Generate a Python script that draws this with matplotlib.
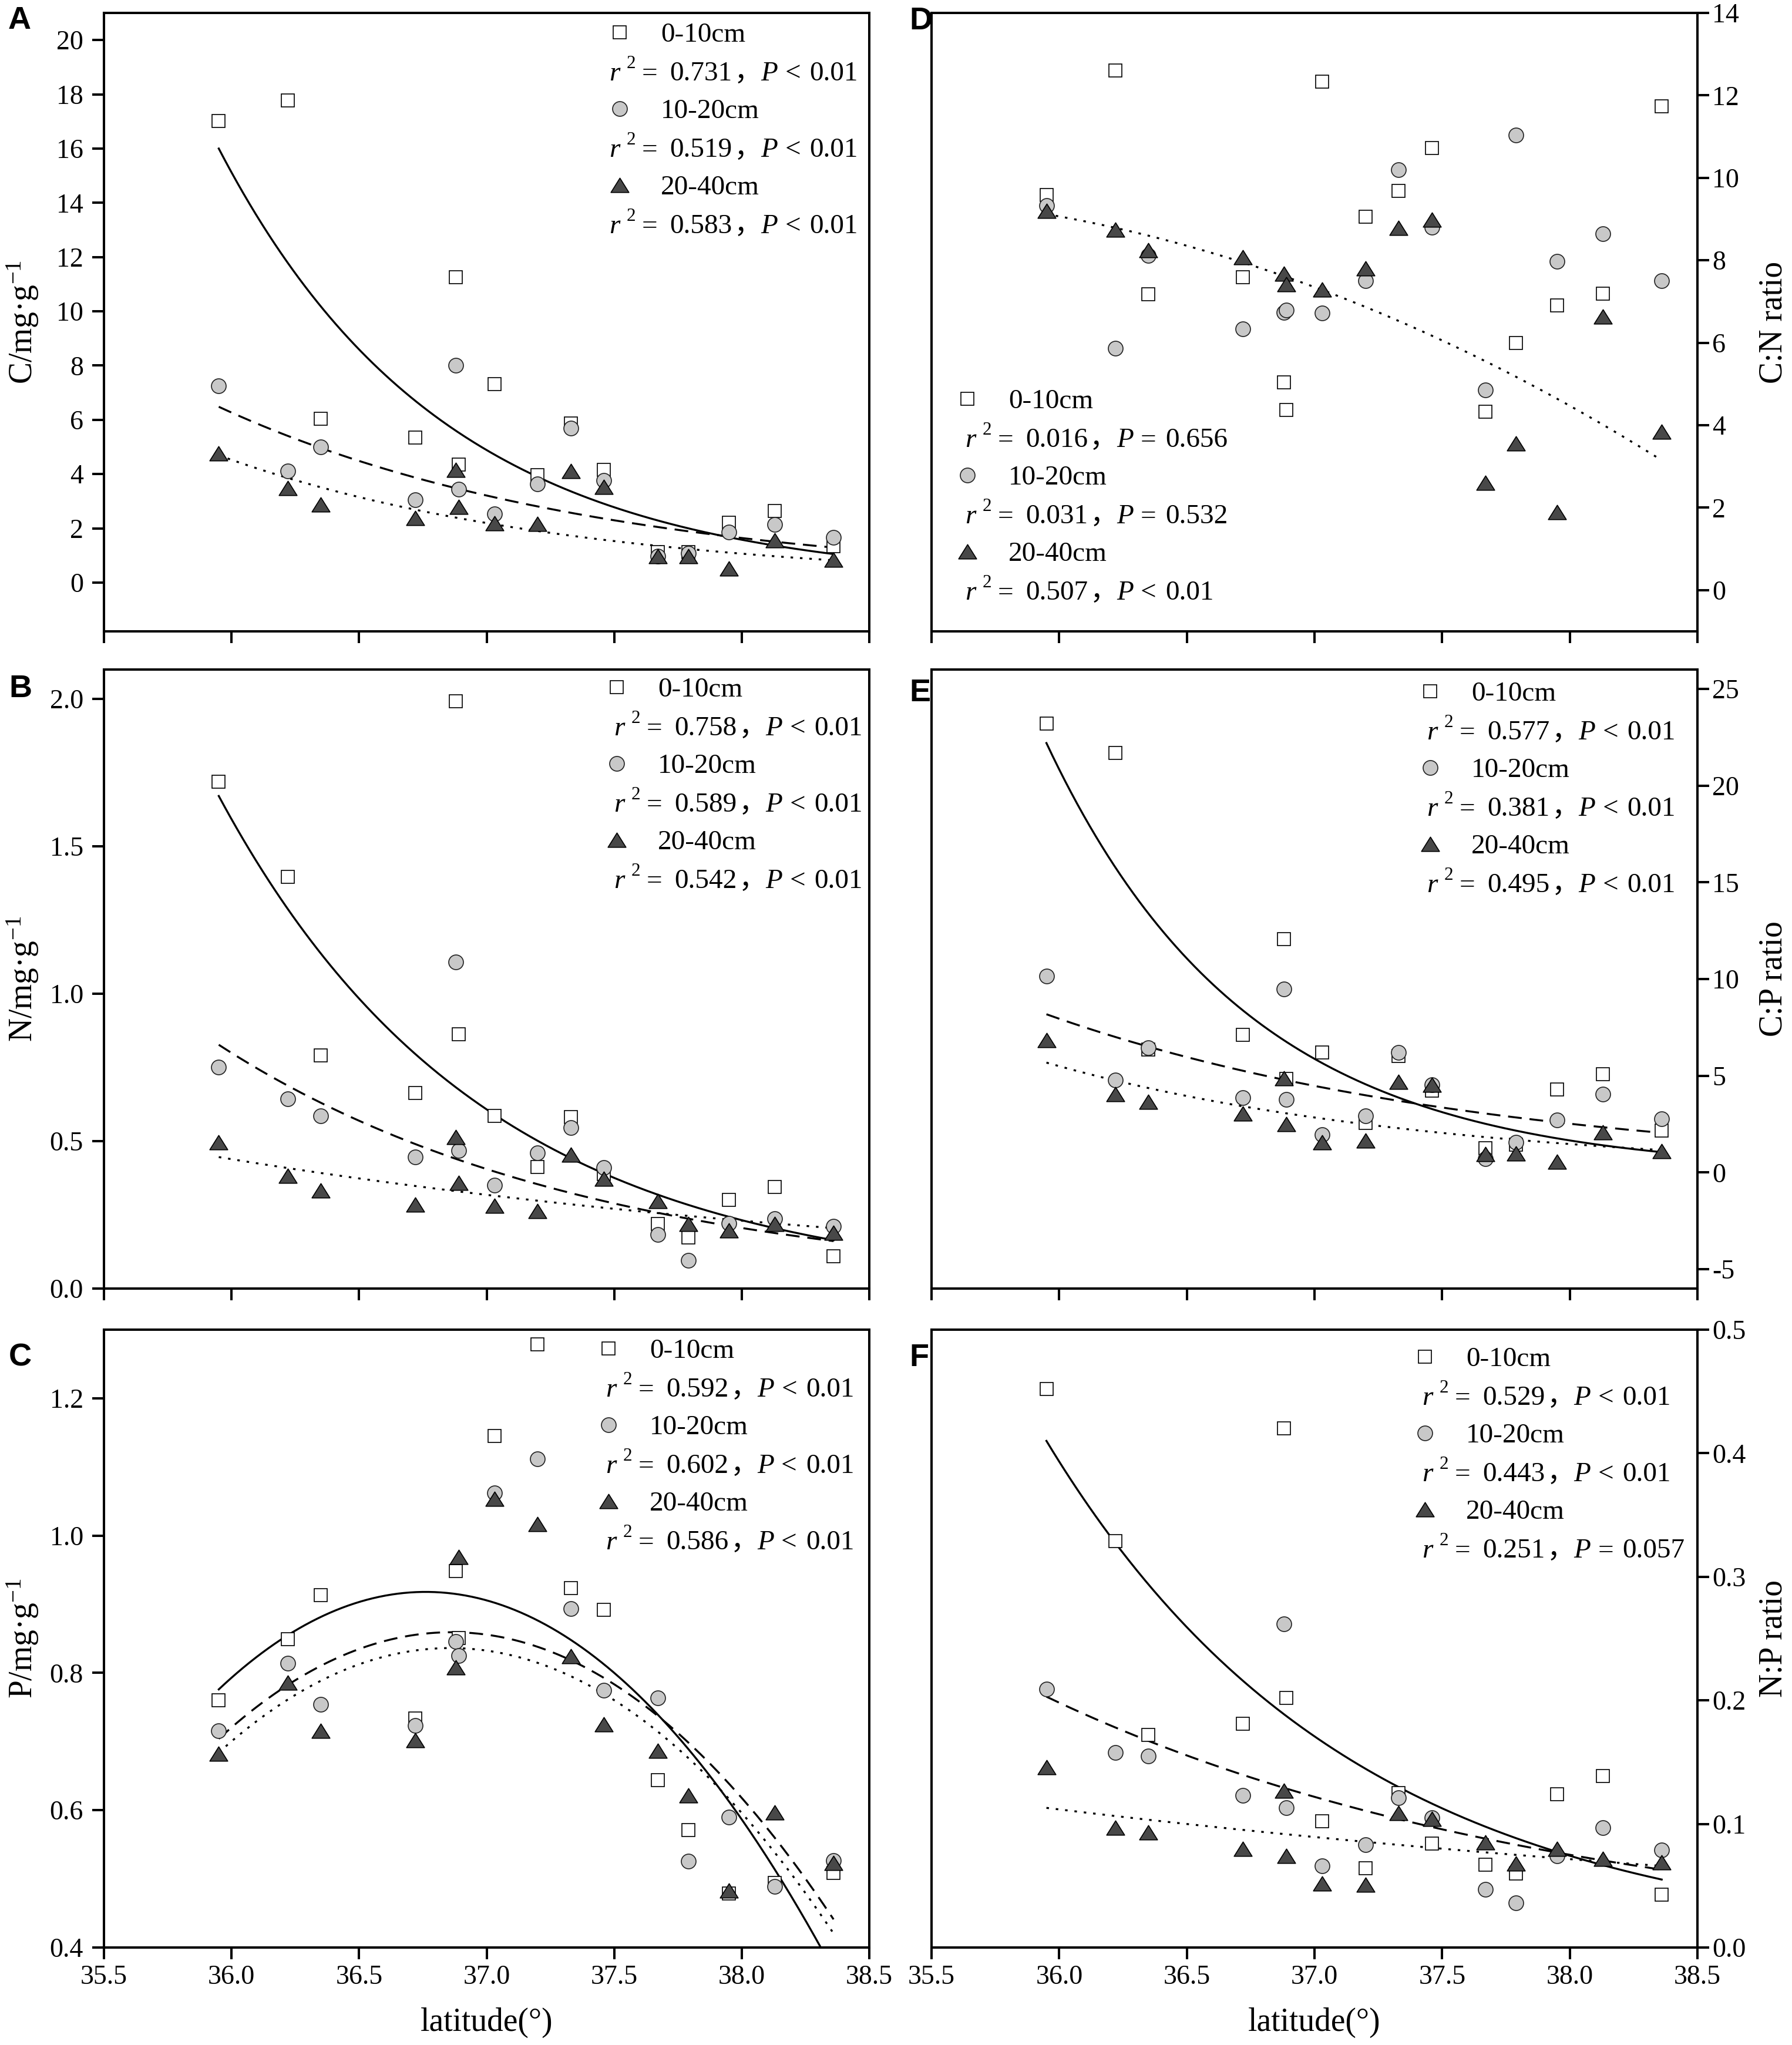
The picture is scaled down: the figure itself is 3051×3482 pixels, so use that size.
import numpy as np
import matplotlib
matplotlib.use("Agg")
import matplotlib.pyplot as plt
from matplotlib.transforms import offset_copy
from matplotlib.path import Path

plt.rcParams['font.family'] = ['Liberation Serif', 'Noto Sans CJK SC']
plt.rcParams['mathtext.fontset'] = 'custom'
plt.rcParams['mathtext.rm'] = 'Liberation Serif'
plt.rcParams['mathtext.it'] = 'Liberation Serif:italic'
plt.rcParams['axes.unicode_minus'] = False

# ---------------- data ----------------
latitude = [35.95, 36.22, 36.35, 36.72, 36.88, 36.89, 37.03, 37.20,
            37.33, 37.46, 37.67, 37.79, 37.95, 38.13, 38.36]
depths = ['0-10cm', '10-20cm', '20-40cm']

C_0_10 = [17.01, 17.78, 6.04, 5.34, 11.26, 4.34, 7.31, 3.95, 5.86, 4.15, 1.13, 1.13, 2.20, 2.63, 1.33]
C_10_20 = [7.25, 4.12, 5.00, 3.04, 8.01, 3.45, 2.53, 3.64, 5.70, 3.76, 0.98, 1.08, 1.86, 2.14, 1.67]
C_20_40 = [4.77, 3.49, 2.87, 2.37, 4.15, 2.80, 2.18, 2.17, 4.12, 3.53, 0.98, 0.98, 0.51, 1.55, 0.85]

N_0_10 = [1.719, 1.397, 0.790, 0.663, 1.993, 0.863, 0.585, 0.413, 0.581, 0.388, 0.219, 0.173, 0.300, 0.345, 0.110]
N_10_20 = [0.751, 0.644, 0.585, 0.446, 1.108, 0.468, 0.351, 0.461, 0.546, 0.410, 0.183, 0.095, 0.222, 0.238, 0.212]
N_20_40 = [0.497, 0.383, 0.332, 0.285, 0.515, 0.358, 0.281, 0.263, 0.454, 0.373, 0.297, 0.219, 0.198, 0.219, 0.190]

P_0_10 = [0.760, 0.849, 0.913, 0.734, 0.948, 0.851, 1.145, 1.279, 0.924, 0.892, 0.644, 0.571, 0.479, 0.494, 0.509]
P_10_20 = [0.716, 0.814, 0.754, 0.723, 0.846, 0.825, 1.062, 1.112, 0.894, 0.775, 0.764, 0.526, 0.590, 0.489, 0.527]
P_20_40 = [0.682, 0.786, 0.716, 0.702, 0.808, 0.969, 1.054, 1.017, 0.824, 0.725, 0.687, 0.622, 0.483, 0.597, 0.523]

CN_0_10 = [9.58, 12.61, 7.17, 7.59, 5.04, 4.37, 12.33, 9.05, 9.68, 10.72, 4.33, 5.99, 6.90, 7.19, 11.73]
CN_10_20 = [9.33, 5.87, 8.11, 6.33, 6.74, 6.79, 6.72, 7.50, 10.19, 8.80, 4.86, 11.03, 7.97, 8.65, 7.50]
CN_20_40 = [9.20, 8.75, 8.24, 8.07, 7.68, 7.42, 7.29, 7.80, 8.78, 8.99, 2.60, 3.56, 1.89, 6.64, 3.84]

CP_0_10 = [23.2, 21.7, 6.35, 7.13, 12.05, 4.84, 6.22, 2.56, 6.02, 4.23, 1.27, 1.45, 4.28, 5.08, 2.16]
CP_10_20 = [10.14, 4.79, 6.46, 3.88, 9.47, 3.79, 1.94, 2.94, 6.22, 4.55, 0.71, 1.56, 2.72, 4.06, 2.76]
CP_20_40 = [6.84, 4.06, 3.65, 3.05, 4.88, 2.50, 1.56, 1.65, 4.68, 4.55, 0.94, 0.98, 0.56, 2.09, 1.11]

NP_0_10 = [0.452, 0.329, 0.172, 0.181, 0.420, 0.202, 0.102, 0.064, 0.125, 0.084, 0.067, 0.060, 0.124, 0.139, 0.043]
NP_10_20 = [0.209, 0.158, 0.155, 0.123, 0.262, 0.113, 0.066, 0.083, 0.121, 0.105, 0.047, 0.036, 0.074, 0.097, 0.079]
NP_20_40 = [0.146, 0.097, 0.093, 0.080, 0.127, 0.074, 0.052, 0.051, 0.109, 0.104, 0.085, 0.068, 0.080, 0.072, 0.069]

# fitted curves: exponential fits given by end values
fit_x_ends = [35.95, 38.36]
fitA = [[16.0, 1.05], [6.48, 1.29], [4.69, 0.82]]
fitB = [[1.671, 0.164], [0.827, 0.161], [0.446, 0.205]]
fitE = [[22.2, 1.05], [8.18, 2.05], [5.68, 1.16]]
fitF = [[0.410, 0.055], [0.203, 0.063], [0.113, 0.066]]
# quadratic fits given by three points on each curve
fitC_x = [[35.95, 36.76, 38.31], [35.95, 36.90, 38.36], [35.95, 36.99, 38.36]]
fitC_y = [[0.776, 0.918, 0.400], [0.704, 0.859, 0.441], [0.684, 0.833, 0.4205]]
fitD_x = [35.95, 37.00, 38.36]
fitD_y = [9.12, 7.35, 3.15]

statsA = [('0.731', '<', '0.01'), ('0.519', '<', '0.01'), ('0.583', '<', '0.01')]
statsB = [('0.758', '<', '0.01'), ('0.589', '<', '0.01'), ('0.542', '<', '0.01')]
statsC = [('0.592', '<', '0.01'), ('0.602', '<', '0.01'), ('0.586', '<', '0.01')]
statsD = [('0.016', '=', '0.656'), ('0.031', '=', '0.532'), ('0.507', '<', '0.01')]
statsE = [('0.577', '<', '0.01'), ('0.381', '<', '0.01'), ('0.495', '<', '0.01')]
statsF = [('0.529', '<', '0.01'), ('0.443', '<', '0.01'), ('0.251', '=', '0.057')]

x_ticks = [35.5, 36.0, 36.5, 37.0, 37.5, 38.0, 38.5]

# ---------------- figure ----------------
W, H, DPI = 3051, 3482, 100
fig = plt.figure(figsize=(W / DPI, H / DPI), dpi=DPI)
renderer = fig.canvas.get_renderer()

col_x = [(177, 1480), (1586, 2890)]
row_y = [(22, 1075), (1140, 2194), (2264, 3316)]

TICK_FS = 33
LEG_FS = 34
LAB_FS = 40

tri_path = Path([(-1, -0.8), (1, -0.8), (0, 0.8), (-1, -0.8)], closed=True)
styles = [
    dict(marker='s', ms=16.5, mfc='white', mec='black', mew=1.2, ls='none'),
    dict(marker='o', ms=18, mfc='#c8c8c8', mec='#222222', mew=1.2, ls='none'),
    dict(marker=tri_path, ms=22, mfc='#484848', mec='black', mew=1.2, ls='none'),
]
line_styles = [
    dict(color='black', lw=2.4, ls='-'),
    dict(color='black', lw=2.4, ls=(0, (7, 4))),
    dict(color='black', lw=2.4, ls=(0, (1.3, 3.5))),
]


def make_axes(col, row):
    l, r = col_x[col]
    t, b = row_y[row]
    return fig.add_axes([l / W, 1 - b / H, (r - l) / W, (b - t) / H])


def setup(ax, ylim, yticks, fmt, side, show_x):
    ax.set_xlim(35.5, 38.5)
    ax.set_xticks(x_ticks)
    ax.set_xticklabels(['%.1f' % v for v in x_ticks])
    ax.set_ylim(*ylim)
    ax.set_yticks(yticks)
    ax.set_yticklabels([fmt % v for v in yticks])
    for s in ax.spines.values():
        s.set_linewidth(2.9)
    ax.tick_params(axis='both', direction='out', length=14.4, width=2.9,
                   labelsize=TICK_FS)
    if side == 'right':
        ax.yaxis.tick_right()
        ax.tick_params(axis='y', pad=3.6)
    else:
        ax.tick_params(axis='y', pad=10.8)
    ax.tick_params(axis='x', pad=6.5, labelbottom=show_x)


def plot_series(ax, series):
    for vals, st in zip(series, styles):
        ax.plot(latitude, vals, zorder=3, clip_on=False, **st)


def exp_curve(ends):
    xs = np.linspace(fit_x_ends[0], fit_x_ends[1], 300)
    b = np.log(ends[1] / ends[0]) / (fit_x_ends[1] - fit_x_ends[0])
    return xs, ends[0] * np.exp(b * (xs - fit_x_ends[0]))


def quad_curve(px, py):
    c = np.polyfit(px, py, 2)
    xs = np.linspace(fit_x_ends[0], fit_x_ends[1], 300)
    return xs, np.polyval(c, xs)


def tr_px(ax, dx, dy):
    return offset_copy(ax.transAxes, fig=fig, x=dx, y=-dy, units='dots')


def put_text(ax, dx, dy, s, **kw):
    t = ax.text(0, 1, s, transform=tr_px(ax, dx, dy), ha='left',
                va='baseline', clip_on=False, **kw)
    return t.get_window_extent(renderer).width


SERIF = dict(fontsize=LEG_FS, family='Liberation Serif')
SERIF_IT = dict(fontsize=LEG_FS, family='Liberation Serif', style='italic')


def stat_line(ax, x0, y0, r2, op, pv):
    put_text(ax, x0, y0, 'r', **SERIF_IT)
    put_text(ax, x0 + 30, y0 - 21, '2', fontsize=LEG_FS * 0.66,
             family='Liberation Serif')
    put_text(ax, x0 + 56, y0, '=', **SERIF)
    xv = x0 + 103
    wv = put_text(ax, xv, y0, r2, **SERIF)
    xc = xv + wv + 3
    put_text(ax, xc, y0, '，', fontsize=LEG_FS, family='Noto Sans CJK SC')
    xp = xc + 46
    put_text(ax, xp, y0, 'P', **SERIF_IT)
    put_text(ax, xp + 41, y0, op, **SERIF)
    put_text(ax, xp + 83, y0, pv, **SERIF)


def legend(ax, stats, mdx, sdx, mdy):
    for i, (st, lab, (r2, op, pv)) in enumerate(zip(styles, depths, stats)):
        ym = mdy + i * 130
        ax.plot([0], [1], transform=tr_px(ax, mdx, ym), clip_on=False,
                zorder=5, **st)
        put_text(ax, mdx + 70, ym + 16, lab, **SERIF)
        stat_line(ax, sdx, ym + 82, r2, op, pv)


def ylabel(ax, text, side):
    bb = ax.get_position()
    yc = (bb.y0 + bb.y1) / 2
    x = 55 / W if side == 'left' else 3034 / W
    fig.text(x, yc, text, rotation=90, rotation_mode='anchor', ha='center',
             va='baseline', fontsize=LAB_FS)


def xlabel(ax):
    bb = ax.get_position()
    fig.text((bb.x0 + bb.x1) / 2, 1 - 3458 / H, 'latitude(°)', ha='center',
             va='baseline', fontsize=LAB_FS)


def letter(x, y, s):
    fig.text(x / W, 1 - y / H, s, ha='left', va='top', fontsize=39,
             fontweight='bold', family='Liberation Sans')


# ---- A ----
axA = make_axes(0, 0)
setup(axA, (-1.8, 21), list(range(0, 21, 2)), '%d', 'left', False)
plot_series(axA, [C_0_10, C_10_20, C_20_40])
for ends, ls in zip(fitA, line_styles):
    axA.plot(*exp_curve(ends), zorder=2, **ls)
legend(axA, statsA, 878, 860, 33)
ylabel(axA, 'C/mg·g$^{-1}$', 'left')

# ---- B ----
axB = make_axes(0, 1)
setup(axB, (0, 2.1), [0.0, 0.5, 1.0, 1.5, 2.0], '%.1f', 'left', False)
plot_series(axB, [N_0_10, N_10_20, N_20_40])
for ends, ls in zip(fitB, line_styles):
    axB.plot(*exp_curve(ends), zorder=2, **ls)
legend(axB, statsB, 873, 868, 30)
ylabel(axB, 'N/mg·g$^{-1}$', 'left')

# ---- C ----
axC = make_axes(0, 2)
setup(axC, (0.4, 1.3), [0.4, 0.6, 0.8, 1.0, 1.2], '%.1f', 'left', True)
plot_series(axC, [P_0_10, P_10_20, P_20_40])
for px, py, ls in zip(fitC_x, fitC_y, line_styles):
    axC.plot(*quad_curve(px, py), zorder=2, **ls)
legend(axC, statsC, 859, 854, 32)
ylabel(axC, 'P/mg·g$^{-1}$', 'left')
xlabel(axC)

# ---- D ----
axD = make_axes(1, 0)
setup(axD, (-1, 14), list(range(0, 15, 2)), '%d', 'right', False)
plot_series(axD, [CN_0_10, CN_10_20, CN_20_40])
axD.plot(*quad_curve(fitD_x, fitD_y), zorder=2, **line_styles[2])
legend(axD, statsD, 61, 57, 657)
ylabel(axD, 'C:N ratio', 'right')

# ---- E ----
axE = make_axes(1, 1)
setup(axE, (-6, 26), [-5, 0, 5, 10, 15, 20, 25], '%d', 'right', False)
plot_series(axE, [CP_0_10, CP_10_20, CP_20_40])
for ends, ls in zip(fitE, line_styles):
    axE.plot(*exp_curve(ends), zorder=2, **ls)
legend(axE, statsE, 849, 843, 37)
ylabel(axE, 'C:P ratio', 'right')

# ---- F ----
axF = make_axes(1, 2)
setup(axF, (0, 0.5), [0.0, 0.1, 0.2, 0.3, 0.4, 0.5], '%.1f', 'right', True)
plot_series(axF, [NP_0_10, NP_10_20, NP_20_40])
for ends, ls in zip(fitF, line_styles):
    axF.plot(*exp_curve(ends), zorder=2, **ls)
legend(axF, statsF, 840, 835, 46)
ylabel(axF, 'N:P ratio', 'right')
xlabel(axF)

letter(14, 10, 'A')
letter(15, 1148, 'B')
letter(15, 2287, 'C')
letter(1548, 11, 'D')
letter(1548, 1155, 'E')
letter(1548, 2287, 'F')

fig.savefig('out.png', dpi=DPI)
